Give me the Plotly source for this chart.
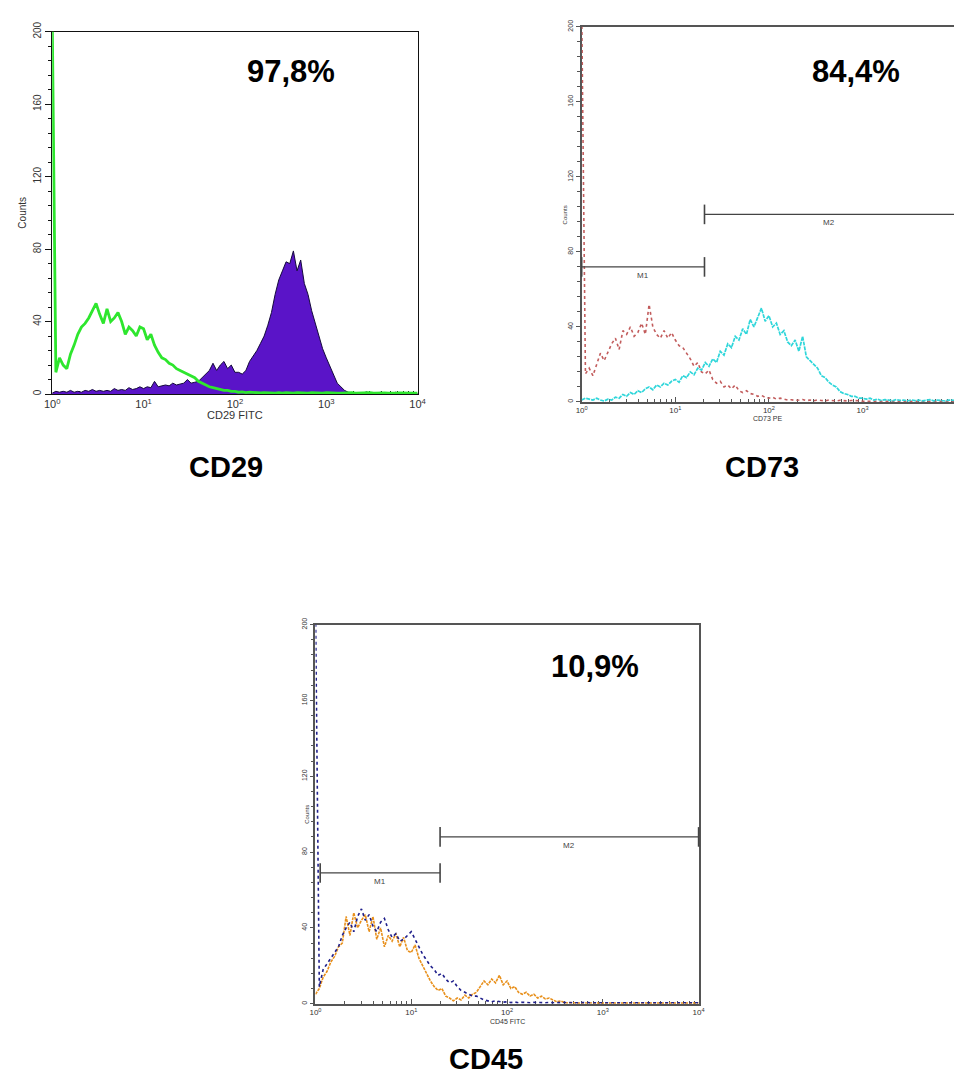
import math
import plotly.graph_objects as go

W, H = 963, 1074

# channel positions (decades, 10^EXP)
EXP = [0.00, 0.04, 0.08, 0.12, 0.16, 0.20, 0.24, 0.28, 0.32, 0.36,
       0.40, 0.44, 0.48, 0.52, 0.56, 0.60, 0.64, 0.68, 0.72, 0.76,
       0.80, 0.84, 0.88, 0.92, 0.96, 1.00, 1.04, 1.08, 1.12, 1.16,
       1.20, 1.24, 1.28, 1.32, 1.36, 1.40, 1.44, 1.48, 1.52, 1.56,
       1.60, 1.64, 1.68, 1.72, 1.76, 1.80, 1.84, 1.88, 1.92, 1.96,
       2.00, 2.04, 2.08, 2.12, 2.16, 2.20, 2.24, 2.28, 2.32, 2.36,
       2.40, 2.44, 2.48, 2.52, 2.56, 2.60, 2.64, 2.68, 2.72, 2.76,
       2.80, 2.84, 2.88, 2.92, 2.96, 3.00, 3.04, 3.08, 3.12, 3.16,
       3.20, 3.24, 3.28, 3.32, 3.36, 3.40, 3.44, 3.48, 3.52, 3.56,
       3.60, 3.64, 3.68, 3.72, 3.76, 3.80, 3.84, 3.88, 3.92, 3.96,
       4.00]

CD29_ISO = [210, 12, 20, 16, 14, 22, 27, 33, 37, 39,
            42, 46, 50, 44, 39, 47, 40, 42, 45, 40,
            33, 37, 35, 32, 37, 36, 30, 33, 27, 23,
            20, 19, 17, 16, 14, 13, 12, 11, 10, 9,
            7, 6, 5, 4, 3.5, 3, 2.5, 2, 2, 1.5,
            1.5, 1, 1.2, 0.8, 1, 0.8, 1, 0.6, 0.8, 0.6,
            0.8, 0.5, 0.7, 0.5, 0.8, 0.6, 0.5, 0.7, 0.5, 0.6,
            0.5, 0.7, 0.5, 0.6, 0.5, 0.7, 0.5, 0.6, 0.5, 0.5,
            0.6, 0.5, 0.7, 0.5, 0.6, 0.5, 0.5, 0.7, 0.5, 0.6,
            0.5, 0.6, 0.5, 0.7, 0.5, 0.6, 0.5, 0.5, 0.6, 0.5,
            0.5]

CD29_STAIN = [0.5, 1.5, 1, 1.5, 1, 2, 1, 1.5, 1, 2,
              1.5, 2.5, 1.5, 2, 1.5, 2, 1.5, 3, 2, 2.5,
              2, 3.5, 2.5, 3, 4, 3, 4, 3.5, 7, 4,
              4.5, 5, 4.5, 6, 5, 5.5, 6, 8, 6, 6.5,
              7, 9, 11, 13, 17, 13, 16, 18, 14, 16,
              12, 12, 11, 13, 18, 21, 24, 28, 32, 38,
              45, 55, 63, 68, 73, 72, 79, 68, 74, 61,
              55, 46, 39, 32, 25, 20, 15, 11, 6, 4,
              2, 1, 0.5, 0.4, 0.8, 0.4, 1.2, 0.4, 0.3, 0.5,
              1, 0.4, 0.3, 0.5, 1, 0.4, 0.3, 0.4, 0.3, 0.3,
              0.3]

CD73_ISO = [210, 15, 18, 14, 20, 26, 22, 27, 31, 34,
            28, 38, 36, 40, 35, 37, 42, 36, 52, 40,
            36, 34, 38, 34, 37, 33, 30, 29, 26, 23,
            19, 21, 16, 15, 17, 12, 10, 11, 8, 9,
            7, 9, 6, 5, 6, 4.5, 4, 3, 3.5, 2.5,
            2, 2.5, 1.5, 2, 1.5, 1, 1.2, 0.8, 1, 1.3,
            0.7, 1, 0.6, 1.1, 0.8, 0.6, 1, 0.7, 0.5, 0.9,
            0.6, 0.5, 0.8, 0.5, 0.6, 0.4, 0.5, 0.3, 0.4, 0.3,
            0.3, 0.4, 0.3, 0.3, 0.4, 0.3, 0.3, 0.3, 0.4, 0.3,
            0.3, 0.3, 0.4, 0.3, 0.3, 0.3, 0.3, 0.4, 0.3, 0.3,
            0.3]

CD73_STAIN = [1, 2, 1.5, 1, 2, 1, 0.5, 1.5, 1, 2.5,
              2, 4, 3, 5, 4, 6, 5, 7, 8, 6.5,
              9, 8, 10, 9, 11, 12, 10.5, 14, 13, 16,
              14.5, 18, 17, 21, 19, 23, 21, 27, 25, 31,
              29, 35, 33, 39, 36, 44, 40, 45, 50, 43,
              46, 40, 42, 36, 38, 32, 30, 33, 27, 35,
              24, 22, 20, 18, 14, 13, 10.5, 9, 8, 5.5,
              4.5, 4, 3, 3, 2, 2, 1.5, 2, 1, 1.5,
              0.8, 1.2, 1, 0.6, 1.3, 0.8, 1, 0.6, 1.1, 0.7,
              1, 0.6, 0.9, 1.2, 0.6, 1, 0.8, 0.5, 1, 0.7,
              0.8]

CD45_ORANGE = [5, 8, 14, 17, 22, 25, 30, 32, 46, 36,
               48, 40, 44, 47, 38, 46, 34, 40, 30, 36,
               33, 37, 30, 35, 28, 27, 31, 24, 20, 16,
               12, 9, 7, 8, 4, 3, 1.5, 3, 2, 4.5,
               3, 5, 6, 9, 12, 10, 13, 11, 15, 10,
               12, 8, 9, 6, 5, 6, 4, 5, 3, 4,
               2.5, 3, 2, 1, 1.5, 0.5, 0.4, 0.6, 0.3, 0.4,
               0.3, 0.3, 0.4, 0.3, 0.3, 0.3, 0.3, 0.3, 0.3, 0.3,
               0.3, 0.3, 0.3, 0.3, 0.3, 0.3, 0.3, 0.3, 0.3, 0.3,
               0.3, 0.3, 0.3, 0.3, 0.3, 0.3, 0.3, 0.3, 0.3, 0.3,
               0.3]

CD45_NAVY = [210, 9, 18, 21, 24, 27, 30, 36, 40, 43,
             38, 46, 50, 44, 47, 41, 38, 43, 45, 39,
             35, 37, 33, 34, 36, 38, 34, 30, 26, 23,
             20, 18, 15, 16, 13, 11, 12, 9, 7, 6,
             5, 4, 4, 3, 2, 1.5, 1, 1.5, 1, 0.8,
             1, 0.6, 0.9, 0.5, 0.8, 0.6, 0.5, 0.7, 0.5, 0.6,
             0.5, 0.7, 0.5, 0.6, 0.5, 0.5, 0.7, 0.5, 0.6, 0.5,
             0.5, 0.6, 0.5, 0.5, 0.6, 0.5, 0.5, 0.6, 0.5, 0.5,
             0.6, 0.5, 0.5, 0.6, 0.5, 0.5, 0.6, 0.5, 0.5, 0.6,
             0.5, 0.5, 0.6, 0.5, 0.5, 0.6, 0.5, 0.5, 0.6, 0.5,
             0.5]

PANEL_NAMES = ["CD29", "CD73", "CD45"]
PERCENTS = ["97,8%", "84,4%", "10,9%"]
X_TITLES = ["CD29 FITC", "CD73 PE", "CD45 FITC"]
Y_TITLE = "Counts"
X_TICK_VALS = [1, 10, 100, 1000, 10000]
X_TICK_TEXT = ["10<sup>0</sup>", "10<sup>1</sup>", "10<sup>2</sup>", "10<sup>3</sup>", "10<sup>4</sup>"]
X_MINOR_VALS = [m * 10 ** k for k in range(4) for m in range(2, 10)]
GATES_CD73 = [("M1", 1.0, 20.5, 72), ("M2", 20.5, 10000, 100)]
GATES_CD45 = [("M1", 1.12, 20, 69), ("M2", 20, 10000, 88)]

for arr in (CD29_ISO, CD29_STAIN, CD73_ISO, CD73_STAIN, CD45_ORANGE, CD45_NAVY):
    assert len(arr) == len(EXP), len(arr)

X = [10 ** e for e in EXP]
FONT = "Liberation Sans, Arial, sans-serif"


def dom(x0, y0, x1, y1):
    return [x0 / W, x1 / W], [1 - y1 / H, 1 - y0 / H]


# pixel boxes of the three plot areas
B1 = (45, 22, 417, 388)
B2 = (584, 17, 963, 396)
B3 = (313, 621, 703, 1004)
P1, P2, P3 = dom(*B1), dom(*B2), dom(*B3)

fig = go.Figure()

# Panel 1 : CD29
fig.add_trace(go.Scatter(x=X, y=CD29_STAIN, mode="lines", fill="tozeroy",
                         fillcolor="#5a14c8", line=dict(color="#150a3c", width=1),
                         xaxis="x", yaxis="y", showlegend=False))
fig.add_trace(go.Scatter(x=X, y=CD29_ISO, mode="lines",
                         line=dict(color="#2ee62e", width=2.8),
                         xaxis="x", yaxis="y", showlegend=False))

# Panel 2 : CD73
fig.add_trace(go.Scatter(x=X, y=CD73_ISO, mode="lines",
                         line=dict(color="#c25c5c", width=1.6, dash="dot"),
                         xaxis="x2", yaxis="y2", showlegend=False))
fig.add_trace(go.Scatter(x=X, y=CD73_STAIN, mode="lines",
                         line=dict(color="#2fd6da", width=1.7, dash="4px,1px"),
                         xaxis="x2", yaxis="y2", showlegend=False))

# Panel 3 : CD45
fig.add_trace(go.Scatter(x=X, y=CD45_ORANGE, mode="lines",
                         line=dict(color="#e8901c", width=1.6, dash="3px,1px"),
                         xaxis="x3", yaxis="y3", showlegend=False))
fig.add_trace(go.Scatter(x=X, y=CD45_NAVY, mode="lines",
                         line=dict(color="#20208c", width=1.6, dash="dot"),
                         xaxis="x3", yaxis="y3", showlegend=False))

annotations = []
for gates, xa, ya, xmax in ((GATES_CD73, "x2", "y2", 3.977), (GATES_CD45, "x3", "y3", 4.0)):
    for name, a, b, yv in gates:
        fig.add_trace(go.Scatter(x=[a, b], y=[yv, yv], mode="lines+markers",
                                 line=dict(color="#444", width=1.3),
                                 marker=dict(symbol="line-ns", size=14,
                                             line=dict(color="#444", width=1.6)),
                                 cliponaxis=False, xaxis=xa, yaxis=ya,
                                 showlegend=False))
        annotations.append(dict(x=(math.log10(a) + min(math.log10(b), xmax)) / 2,
                                y=yv, xref=xa, yref=ya, text=name, showarrow=False,
                                xanchor="center", yanchor="top", yshift=-2,
                                font=dict(family=FONT, size=8, color="#444")))


def xaxis(domain, rng, anchor, tfs, lc, lw):
    return dict(type="log", domain=domain, range=rng, anchor=anchor,
                tickmode="array", tickvals=X_TICK_VALS, ticktext=X_TICK_TEXT,
                ticks="inside", ticklen=5, tickwidth=1, tickcolor=lc,
                minor=dict(tickmode="array", tickvals=X_MINOR_VALS, ticks="inside",
                           ticklen=3, tickwidth=1, tickcolor=lc),
                showline=True, linecolor=lc, linewidth=lw, mirror=True,
                showgrid=False, zeroline=False, layer="below traces",
                tickfont=dict(family=FONT, size=tfs, color="#333"))


def yaxis(domain, anchor, tfs, lc, lw, mirror, tl):
    return dict(domain=domain, range=[0, 200], anchor=anchor,
                tickmode="linear", tick0=0, dtick=40, tickangle=-90,
                ticks="outside", ticklen=tl, tickwidth=1, tickcolor=lc,
                minor=dict(tick0=0, dtick=8, ticks="outside", ticklen=3,
                           tickwidth=1, tickcolor=lc),
                showline=True, linecolor=lc, linewidth=lw, mirror=mirror,
                showgrid=False, zeroline=False, layer="below traces",
                tickfont=dict(family=FONT, size=tfs, color="#333"))


fig.update_layout(
    width=W, height=H, margin=dict(l=0, r=0, t=0, b=0),
    paper_bgcolor="white", plot_bgcolor="white", showlegend=False,
    xaxis=xaxis(P1[0], [0, 4], "y", 11, "#111", 1.4),
    yaxis=yaxis(P1[1], "x", 10, "#111", 1.4, True, 6),
    xaxis2=xaxis(P2[0], [0, 3.977], "y2", 8, "#555", 1.6),
    yaxis2=yaxis(P2[1], "x2", 7, "#555", 1.6, False, 4),
    xaxis3=xaxis(P3[0], [0, 4], "y3", 8, "#555", 1.6),
    yaxis3=yaxis(P3[1], "x3", 7, "#555", 1.6, True, 4),
)

# axis titles (placed just under / left of the tick labels)
for title, (x0, y0, x1, y1), ty, cy_x, size, ysize in ((X_TITLES[0], B1, 409, 15, 11, 10),
                                                       (X_TITLES[1], B2, 413, 567, 7, 6),
                                                       (X_TITLES[2], B3, 1022, 305, 7, 6)):
    annotations.append(dict(x=(x0 + x1) / 2 / W, y=1 - ty / H,
                            xref="paper", yref="paper", text=title, showarrow=False,
                            xanchor="center", yanchor="middle",
                            font=dict(family=FONT, size=size, color="#333")))
    annotations.append(dict(x=cy_x / W, y=1 - (y0 + y1) / 2 / H,
                            xref="paper", yref="paper", text=Y_TITLE, showarrow=False,
                            textangle=-90, xanchor="center", yanchor="middle",
                            font=dict(family=FONT, size=ysize, color="#333")))

# percentage labels
for txt, xa, ya, xv, yv in ((PERCENTS[0], "x", "y", 2.61, 178),
                            (PERCENTS[1], "x2", "y2", 2.93, 176),
                            (PERCENTS[2], "x3", "y3", 2.92, 178)):
    annotations.append(dict(x=xv, y=yv, xref=xa, yref=ya, text="<b>%s</b>" % txt,
                            showarrow=False, xanchor="center", yanchor="middle",
                            font=dict(family=FONT, size=31, color="black")))

# panel names
for name, px, py in ((PANEL_NAMES[0], 222, 462), (PANEL_NAMES[1], 768, 462),
                     (PANEL_NAMES[2], 487, 1060)):
    annotations.append(dict(x=px / W, y=1 - py / H, xref="paper", yref="paper",
                            text="<b>%s</b>" % name, showarrow=False,
                            xanchor="center", yanchor="middle",
                            font=dict(family=FONT, size=29, color="black")))

fig.update_layout(annotations=annotations)
fig.write_html("out.html", config={"displayModeBar": False},
               post_script="document.body.style.margin='0px';")
